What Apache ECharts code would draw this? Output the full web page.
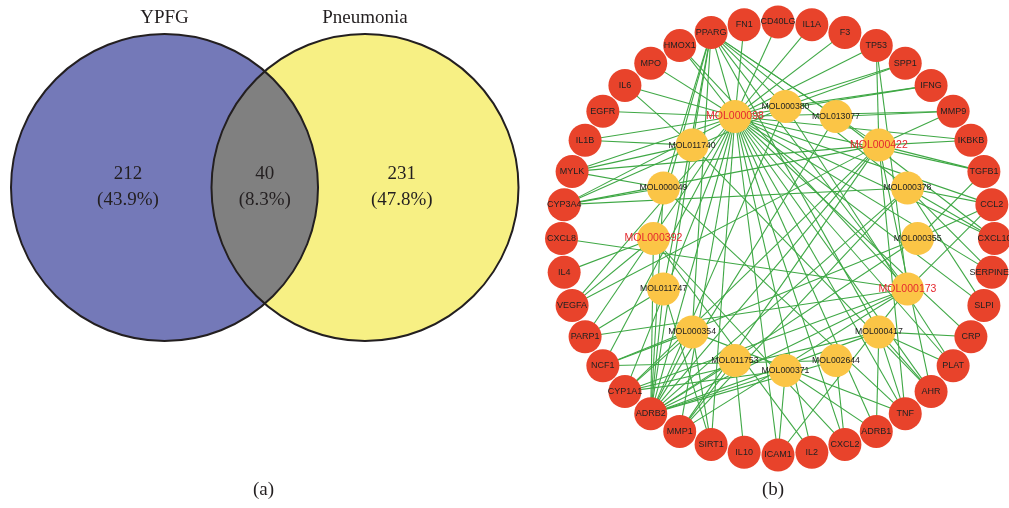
<!DOCTYPE html>
<html><head><meta charset="utf-8">
<script src="https://cdn.jsdelivr.net/npm/echarts@6/dist/echarts.min.js"></script>
<style>html,body{margin:0;padding:0;background:#fff}#c{width:1009px;height:508px}</style>
</head><body><div id="c"></div>
<script>
// ---------- data ----------
const vennSets = ['YPFG', 'Pneumonia'];
const vennCounts = [212, 40, 231]; // YPFG only, shared, Pneumonia only
const panelLabels = ['(a)', '(b)'];

// targets, clockwise from top
const targets = ['CD40LG','IL1A','F3','TP53','SPP1','IFNG','MMP9','IKBKB','TGFB1','CCL2',
  'CXCL10','SERPINE1','SLPI','CRP','PLAT','AHR','TNF','ADRB1','CXCL2','IL2',
  'ICAM1','IL10','SIRT1','MMP1','ADRB2','CYP1A1','NCF1','PARP1','VEGFA','IL4',
  'CXCL8','CYP3A4','MYLK','IL1B','EGFR','IL6','MPO','HMOX1','PPARG','FN1'];
// compounds, clockwise from top
const compounds = ['MOL000380','MOL013077','MOL000422','MOL000378','MOL000355','MOL000173',
  'MOL000417','MOL002644','MOL000371','MOL011753','MOL000354','MOL011747',
  'MOL000392','MOL000049','MOL011740','MOL000098'];
const highlighted = ['MOL000098','MOL000422','MOL000392','MOL000173'];

const links = [
  ['MOL000098','FN1'],['MOL000098','CD40LG'],['MOL000098','IL1A'],['MOL000098','F3'],['MOL000098','TP53'],
  ['MOL000098','SPP1'],['MOL000098','IFNG'],['MOL000098','MMP9'],['MOL000098','PPARG'],['MOL000098','HMOX1'],
  ['MOL000098','MPO'],['MOL000098','IL6'],['MOL000098','EGFR'],['MOL000098','IL1B'],['MOL000098','MYLK'],
  ['MOL000098','CYP3A4'],['MOL000098','VEGFA'],['MOL000098','PARP1'],['MOL000098','NCF1'],['MOL000098','CYP1A1'],
  ['MOL000098','ADRB2'],['MOL000098','MMP1'],['MOL000098','SIRT1'],['MOL000098','ICAM1'],['MOL000098','IL2'],
  ['MOL000098','CXCL2'],['MOL000098','ADRB1'],['MOL000098','TNF'],['MOL000098','AHR'],['MOL000098','PLAT'],
  ['MOL000098','CRP'],['MOL000098','SLPI'],['MOL000098','SERPINE1'],['MOL000098','CXCL10'],['MOL000098','CCL2'],
  ['MOL000098','TGFB1'],['MOL000098','IKBKB'],
  ['MOL000380','ADRB2'],['MOL000380','PPARG'],['MOL000380','IFNG'],['MOL000380','SPP1'],['MOL000380','CYP3A4'],['MOL000380','PLAT'],
  ['MOL013077','MMP9'],['MOL013077','PPARG'],['MOL013077','ADRB2'],['MOL013077','CXCL10'],
  ['MOL000422','PPARG'],['MOL000422','IKBKB'],['MOL000422','MMP9'],['MOL000422','TGFB1'],['MOL000422','ADRB2'],
  ['MOL000422','CYP1A1'],['MOL000422','AHR'],['MOL000422','TNF'],['MOL000422','MMP1'],['MOL000422','VEGFA'],
  ['MOL000422','MYLK'],['MOL000422','CYP3A4'],['MOL000422','TP53'],
  ['MOL000378','PPARG'],['MOL000378','ADRB2'],['MOL000378','CCL2'],['MOL000378','CXCL10'],['MOL000378','SERPINE1'],
  ['MOL000378','SLPI'],['MOL000378','MMP1'],['MOL000378','CYP3A4'],
  ['MOL000355','ADRB2'],['MOL000355','TGFB1'],['MOL000355','CCL2'],['MOL000355','NCF1'],
  ['MOL000173','CXCL8'],['MOL000173','TP53'],['MOL000173','CCL2'],['MOL000173','PPARG'],['MOL000173','ADRB2'],
  ['MOL000173','CYP1A1'],['MOL000173','MMP1'],['MOL000173','PARP1'],['MOL000173','ICAM1'],['MOL000173','HMOX1'],
  ['MOL000417','PPARG'],['MOL000417','ADRB2'],['MOL000417','AHR'],['MOL000417','PLAT'],['MOL000417','TNF'],
  ['MOL000417','ADRB1'],['MOL000417','CRP'],['MOL000417','CYP1A1'],
  ['MOL002644','ADRB2'],['MOL002644','CXCL2'],['MOL002644','NCF1'],
  ['MOL000371','ADRB2'],['MOL000371','ADRB1'],['MOL000371','ICAM1'],['MOL000371','CYP1A1'],
  ['MOL011753','ADRB2'],['MOL011753','IL10'],['MOL011753','MMP1'],
  ['MOL000354','ADRB2'],['MOL000354','NCF1'],['MOL000354','PPARG'],['MOL000354','SIRT1'],['MOL000354','CYP1A1'],['MOL000354','TNF'],
  ['MOL011747','ADRB2'],['MOL011747','PPARG'],['MOL011747','PARP1'],['MOL011747','SIRT1'],
  ['MOL000392','ADRB2'],['MOL000392','PPARG'],['MOL000392','IL4'],['MOL000392','VEGFA'],['MOL000392','IL2'],['MOL000392','CXCL2'],
  ['MOL000049','ADRB2'],['MOL000049','PPARG'],['MOL000049','MYLK'],['MOL000049','CYP3A4'],['MOL000049','TNF'],
  ['MOL011740','ADRB2'],['MOL011740','PPARG'],['MOL011740','IL6'],['MOL011740','IL1B'],['MOL011740','MYLK'],['MOL011740','AHR']
];

// ---------- layout constants ----------
const VD = 0.653;              // venn centre offset (radius units)
const INNER_R = 0.61, INNER_DX = 0.0346;
const SERIF = '"Liberation Serif", "DejaVu Serif", serif';
const SANS = '"Liberation Sans", Arial, sans-serif';

const total = vennCounts.reduce((a, b) => a + b, 0);
const pct = v => '(' + (v / total * 100).toFixed(1) + '%)';

function renderVenn(params, api) {
  const c1 = api.coord([-VD, 0]), c2 = api.coord([VD, 0]);
  const r = api.size([1, 1])[0];
  const cy = c1[1];
  const d = c2[0] - c1[0];
  const a = Math.acos((d / 2) / r);
  const pts = [];
  const N = 80;
  for (let i = 0; i <= N; i++) { const t = -a + 2 * a * i / N; pts.push([c1[0] + r * Math.cos(t), cy + r * Math.sin(t)]); }
  for (let i = 0; i <= N; i++) { const t = Math.PI - a + 2 * a * i / N; pts.push([c2[0] + r * Math.cos(t), cy + r * Math.sin(t)]); }
  const stroke = '#231f20';
  const txt = (text, x, y) => ({ type: 'text', style: { text, x, y, fill: '#231f20', font: '19px ' + SERIF,
    align: 'center', verticalAlign: 'middle', textAlign: 'center', textVerticalAlign: 'middle', lineHeight: 26 } });
  return { type: 'group', children: [
    { type: 'circle', shape: { cx: c1[0], cy, r }, style: { fill: '#7479b8' } },
    { type: 'circle', shape: { cx: c2[0], cy, r }, style: { fill: '#f7f084' } },
    { type: 'polygon', shape: { points: pts }, style: { fill: '#808080' } },
    { type: 'circle', shape: { cx: c1[0], cy, r }, style: { fill: null, stroke, lineWidth: 2 } },
    { type: 'circle', shape: { cx: c2[0], cy, r }, style: { fill: null, stroke, lineWidth: 2 } },
    txt(vennSets[0], c1[0], cy - r - 16),
    txt(vennSets[1], c2[0], cy - r - 16),
    txt(vennCounts[0] + '\n' + pct(vennCounts[0]), c1[0] - 0.238 * r, cy),
    txt(vennCounts[1] + '\n' + pct(vennCounts[1]), (c1[0] + c2[0]) / 2, cy),
    txt(vennCounts[2] + '\n' + pct(vennCounts[2]), c2[0] + 0.24 * r, cy)
  ]};
}

const nodes = [];
targets.forEach((name, i) => {
  const t = 2 * Math.PI * i / targets.length;
  nodes.push({ name, value: [Math.sin(t), Math.cos(t)], symbolSize: 33,
    itemStyle: { color: '#e8432b' },
    label: { color: '#222', fontSize: 9, fontFamily: SANS } });
});
compounds.forEach((name, i) => {
  const t = 2 * Math.PI * i / compounds.length;
  const hi = highlighted.includes(name);
  nodes.push({ name, value: [INNER_DX + INNER_R * Math.sin(t), INNER_R * Math.cos(t)], symbolSize: 33,
    itemStyle: { color: '#fbc546' },
    label: { color: hi ? '#e5282f' : '#222', fontSize: hi ? 10.5 : 8.7, fontFamily: SANS } });
});

const chart = echarts.init(document.getElementById('c'), null, { renderer: 'canvas' });
chart.setOption({
  animation: false,
  backgroundColor: '#fff',
  grid: [
    { left: 11, top: 34, width: 507.5, height: 307, containLabel: false },
    { left: 561.5, top: 22, width: 433, height: 433, containLabel: false }
  ],
  xAxis: [
    { type: 'value', gridIndex: 0, min: -1 - VD, max: 1 + VD, show: false },
    { type: 'value', gridIndex: 1, min: -1, max: 1, show: false }
  ],
  yAxis: [
    { type: 'value', gridIndex: 0, min: -1, max: 1, show: false },
    { type: 'value', gridIndex: 1, min: -1, max: 1, show: false }
  ],
  graphic: [
    { type: 'text', left: 253, top: 481, style: { text: panelLabels[0], font: '19px ' + SERIF, fill: '#231f20' } },
    { type: 'text', left: 762, top: 481, style: { text: panelLabels[1], font: '19px ' + SERIF, fill: '#231f20' } }
  ],
  series: [
    { type: 'custom', xAxisIndex: 0, yAxisIndex: 0, data: [[0, 0]], renderItem: renderVenn, silent: true },
    { type: 'graph', coordinateSystem: 'cartesian2d', xAxisIndex: 1, yAxisIndex: 1,
      layout: 'none', roam: false, silent: true,
      data: nodes,
      links: links.map(([s, t]) => ({ source: s, target: t })),
      label: { show: true, position: 'inside', formatter: '{b}' },
      lineStyle: { color: '#3fa845', width: 1.1, opacity: 1, curveness: 0 },
      emphasis: { disabled: true }
    }
  ]
});
</script></body></html>
